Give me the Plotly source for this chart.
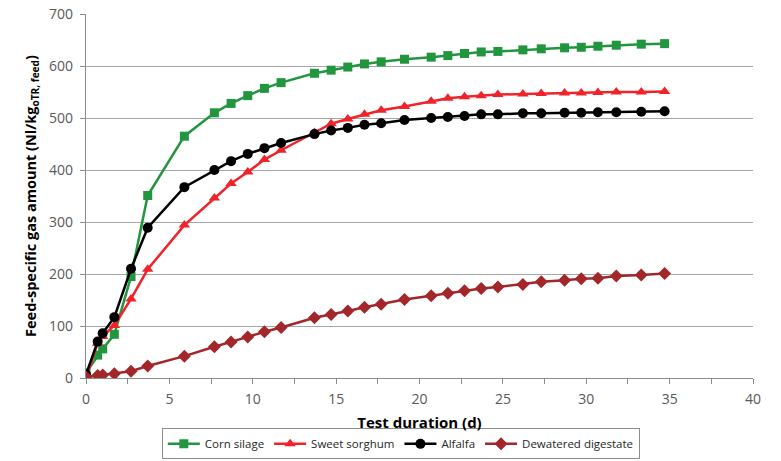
import plotly.graph_objects as go

# Test duration (days) for each measurement
days = [0, 0.7, 1.0, 1.7, 2.7, 3.7, 5.9, 7.7, 8.7, 9.7, 10.7, 11.7, 13.7, 14.7,
        15.7, 16.7, 17.7, 19.1, 20.7, 21.7, 22.7, 23.7, 24.7, 26.2, 27.3, 28.7,
        29.7, 30.7, 31.8, 33.3, 34.7]

# Feed-specific gas amount (Nl/kg oTR, feed)
corn_silage = [10, 44, 56, 84, 195, 351, 465, 510, 528, 543, 557, 568, 586, 592,
               598, 604, 608, 613, 617, 620, 624, 627, 628, 631, 633, 635, 636,
               638, 640, 642, 643]
sweet_sorghum = [0, 67, 80, 101, 152, 209, 294, 346, 374, 396, 420, 438, 472, 489,
                 498, 507, 515, 522, 532, 538, 541, 543, 545, 546, 547, 548, 548,
                 549, 550, 550, 551]
alfalfa = [7, 70, 86, 117, 210, 289, 367, 400, 417, 431, 442, 452, 469, 476,
           481, 487, 490, 496, 500, 502, 504, 507, 507, 509, 509, 510, 510,
           511, 511, 512, 513]
dewatered_digestate = [2, 5, 6, 8, 13, 23, 42, 60, 69, 79, 89, 97, 116, 122,
                       129, 136, 142, 151, 158, 163, 168, 172, 175, 180, 185, 188,
                       191, 192, 196, 198, 201]

series = [
    ("Corn silage", corn_silage, "#22963f", "square", 9),
    ("Sweet sorghum", sweet_sorghum, "#f0232a", "triangle-up", 10),
    ("Alfalfa", alfalfa, "#000000", "circle", 10),
    ("Dewatered digestate", dewatered_digestate, "#a3262a", "diamond", 10),
]

FONT = "Open Sans"
fig = go.Figure()
for name, vals, color, symbol, size in series:
    fig.add_trace(go.Scatter(
        x=days, y=vals, name=name, mode="lines+markers",
        line=dict(color=color, width=2.5),
        marker=dict(symbol=symbol, size=size, color=color),
    ))

fig.update_layout(
    width=781, height=461,
    margin=dict(l=86, r=28, t=14, b=83, autoexpand=False),
    paper_bgcolor="white", plot_bgcolor="white",
    font=dict(family=FONT, size=14, color="#595959"),
    showlegend=True,
    legend=dict(
        orientation="h", x=0.472, xanchor="center", y=-0.2235, yanchor="bottom",
        bordercolor="#8c8c8c", borderwidth=1,
        font=dict(family=FONT, size=11.5, color="#262626"),
        itemwidth=32, tracegroupgap=0,
    ),
)

fig.update_xaxes(
    range=[0, 40], dtick=5, tick0=0, automargin=False,
    showgrid=False, zeroline=False,
    showline=True, linecolor="#8c8c8c", linewidth=1.3,
    ticks="outside", ticklen=5, tickcolor="#8c8c8c",
    minor=dict(dtick=2.5, ticks="outside", ticklen=5, tickcolor="#8c8c8c", showgrid=False),
    tickfont=dict(size=14, color="#595959"), ticklabelstandoff=3,
    title=dict(text="<b>Test duration (d)</b>", font=dict(size=15, color="#000000"), standoff=10),
)
fig.update_yaxes(
    range=[0, 700], dtick=100, automargin=False,
    showgrid=True, gridcolor="#a6a6a6", gridwidth=1.3,
    zeroline=False,
    showline=True, linecolor="#8c8c8c", linewidth=1.3,
    ticks="outside", ticklen=5, tickcolor="#8c8c8c",
    tickfont=dict(size=14, color="#595959"), ticklabelstandoff=4,
    title=dict(text="<b>Feed-specific gas amount (Nl/kg<sub>oTR, feed</sub>)</b>",
               font=dict(size=14.5, color="#000000"), standoff=8),
)

fig.write_html("out.html")
